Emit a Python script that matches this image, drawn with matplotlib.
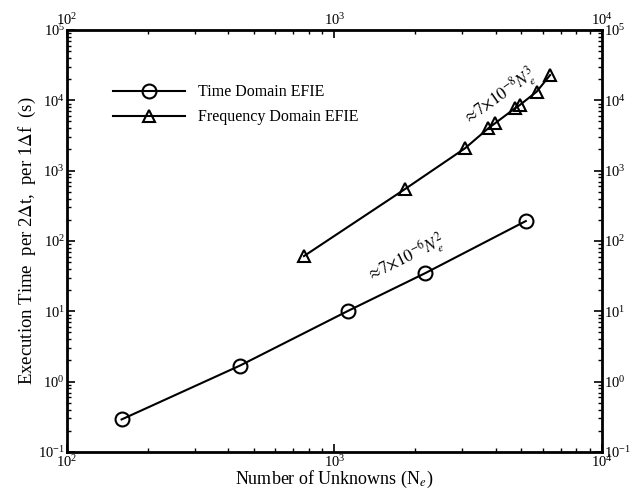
import matplotlib
matplotlib.use('Agg')
import matplotlib.pyplot as plt
from matplotlib.ticker import NullFormatter

plt.rcParams['font.family'] = 'Liberation Serif'
plt.rcParams['mathtext.fontset'] = 'stix'

# timing data: number of unknowns vs execution time
td_unknowns = [160, 443, 1127, 2178, 5190]
td_time = [0.29, 1.69, 10.2, 34.7, 192]

fd_unknowns = [769, 1836, 3076, 3758, 3981, 4732, 4932, 5700, 6400]
fd_time = [61, 548, 2080, 4000, 4710, 7710, 8590, 13270, 22900]

fig = plt.figure(figsize=(6.35, 4.9), dpi=100)
ax = fig.add_axes([0.1055, 0.0776, 0.8425, 0.8612])

ax.plot(td_unknowns, td_time, color='black', lw=1.5, marker='o', ms=10,
        mfc='none', mec='black', mew=1.5, label='Time Domain EFIE')
ax.plot(fd_unknowns, fd_time, color='black', lw=1.5, marker='^', ms=9,
        mfc='none', mec='black', mew=1.5, label='Frequency Domain EFIE')

ax.set_xscale('log')
ax.set_yscale('log')
ax.set_xlim(1e2, 1e4)
ax.set_ylim(1e-1, 1e5)
ax.xaxis.set_minor_formatter(NullFormatter())
ax.yaxis.set_minor_formatter(NullFormatter())

ax.tick_params(which='both', direction='in', top=True, right=True,
               labeltop=True, labelright=True, labelsize=10.5, pad=1.5)
ax.tick_params(which='major', length=6, width=1.2)
ax.tick_params(which='minor', length=3, width=1)
for s in ax.spines.values():
    s.set_linewidth(2)

ax.set_xlabel('Number of Unknowns (N$_e$)', fontsize=13, labelpad=-1)
ax.set_ylabel(r'Execution Time  per 2$\Delta$t,  per 1$\Delta$f  (s)',
              fontsize=13.5, labelpad=0)

ax.text(4160, 11150, r'$\approx\!7{\times}10^{-8}N_e^3$', rotation=35,
        ha='center', va='center', fontsize=12)
ax.text(1850, 57, r'$\approx\!7{\times}10^{-6}N_e^2$', rotation=26,
        ha='center', va='center', fontsize=12)

ax.legend(loc='upper left', bbox_to_anchor=(0.06, 0.905), frameon=False,
          fontsize=11.5, handlelength=4.5, labelspacing=0.55)

fig.savefig('out.png', dpi=100)
